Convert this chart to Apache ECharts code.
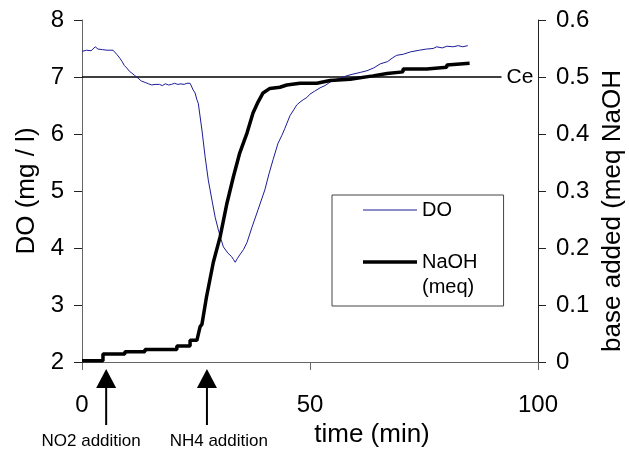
<!DOCTYPE html>
<html>
<head>
<meta charset="utf-8">
<script src="https://cdn.jsdelivr.net/npm/echarts@6/dist/echarts.min.js"></script>
<style>html,body{margin:0;padding:0;background:#fff}#c{width:629px;height:452px}</style>
</head>
<body>
<div id="c"></div>
<script>
// ---- data ----
const doData = [[0,7.45],[1,7.47],[2,7.46],[2.9,7.53],[3.5,7.49],[4.5,7.48],[5.5,7.47],[6.8,7.47],[7.2,7.5],[7.7,7.39],[8.3,7.33],[8.8,7.27],[9.3,7.2],[9.8,7.16],[10.4,7.1],[10.9,7.07],[11.5,7.03],[12.3,6.98],[13,6.93],[13.4,6.91],[14,6.9],[14.6,6.88],[15.3,6.86],[16,6.87],[16.4,6.84],[17,6.87],[17.6,6.85],[18.3,6.88],[19,6.86],[19.6,6.87],[20.3,6.89],[21,6.87],[21.7,6.88],[22.4,6.87],[23,6.89],[23.7,6.89],[24.4,6.77],[24.8,6.72],[25.2,6.6],[25.5,6.54],[26.3,6.07],[27,5.6],[27.7,5.19],[28.5,4.84],[29.2,4.54],[29.9,4.32],[30.5,4.15],[31,4.02],[32,3.91],[32.8,3.85],[33.2,3.8],[33.6,3.75],[34.1,3.82],[34.6,3.88],[35.4,3.97],[36.2,4.1],[37.3,4.37],[38.6,4.67],[40.1,5.02],[41,5.3],[41.9,5.55],[43,5.84],[43.8,5.97],[44.5,6.1],[45.6,6.32],[46.4,6.42],[47.1,6.51],[47.8,6.56],[48.5,6.6],[49.3,6.64],[50,6.7],[51,6.75],[52.2,6.81],[53.3,6.85],[54.4,6.91],[55.5,6.95],[56.6,6.98],[58,7.02],[59.4,7.05],[61,7.08],[62.5,7.11],[64,7.16],[65.4,7.23],[67,7.27],[68,7.33],[69,7.38],[70.5,7.4],[72,7.44],[74,7.47],[75.5,7.49],[77,7.5],[77.8,7.53],[79,7.51],[80,7.54],[81.4,7.53],[82.5,7.55],[83.5,7.53],[84.6,7.55]];
const naohData = [[0,0.002],[4.6,0.002],[4.6,0.014],[9.4,0.014],[9.4,0.018],[13.8,0.018],[13.8,0.022],[20.8,0.022],[20.8,0.028],[23.7,0.028],[23.7,0.038],[25.2,0.038],[25.9,0.062],[26.3,0.066],[27.3,0.114],[28.8,0.175],[30.3,0.22],[31.8,0.279],[33.2,0.325],[34.6,0.367],[36.2,0.402],[37.5,0.437],[38.6,0.456],[39.7,0.472],[41.2,0.48],[43.4,0.482],[44.9,0.486],[47.8,0.489],[51.5,0.489],[54.4,0.494],[58.8,0.496],[63.8,0.502],[66.9,0.506],[70.4,0.509],[70.4,0.514],[75.6,0.514],[75.6,0.517],[80,0.517],[80,0.521],[85,0.524]];
const ceData = [[0,7],[92,7]];
const ceLabel = 'Ce';
const seriesNames = ['DO', 'NaOH'];
const legendLabels = {DO: 'DO', NaOH: '\nNaOH\n(meq)'};
const xTicks = {min: 0, max: 100, interval: 50};
const leftTicks = {min: 2, max: 8, interval: 1};
const rightTicks = {min: 0, max: 0.6, interval: 0.1};
const arrowTimes = [5.3, 27.4];
const arrowLabels = ['NO2 addition', 'NH4 addition'];
const arrowLabelTimes = [2.0, 30.0];
const xName = 'time (min)';
const leftName = 'DO (mg / l)';
const rightName = 'base added (meq NaOH';

const FF = '"Liberation Sans", Arial, sans-serif';
const chart = echarts.init(document.getElementById('c'), null, {renderer: 'canvas'});
const option = {
  backgroundColor: '#fff',
  animation: false,
  textStyle: {fontFamily: FF},
  grid: {left: 82, right: 91, top: 20, bottom: 90, containLabel: false, outerBoundsMode: 'none'},
  legend: {
    orient: 'vertical', left: 332, top: 195,
    padding: [2.5, 26, 6.5, 31], itemGap: 2, itemWidth: 54, itemHeight: 14,
    borderColor: '#444', borderWidth: 1, backgroundColor: '#fff',
    data: [
      {name: seriesNames[0], icon: 'path://M0,0H54V1H0Z'},
      {name: seriesNames[1], icon: 'path://M0,0H54V3.5H0Z'}
    ],
    formatter: n => legendLabels[n],
    textStyle: {fontSize: 20, lineHeight: 25, color: '#000', fontFamily: FF}
  },
  xAxis: {
    type: 'value', min: xTicks.min, max: xTicks.max, interval: xTicks.interval,
    name: xName, nameLocation: 'middle', nameGap: 45,
    nameTextStyle: {fontSize: 26, color: '#000', fontFamily: FF, padding: [0, 0, 0, 124]},
    axisLine: {onZero: false, lineStyle: {color: '#666', width: 1}},
    axisTick: {inside: false, length: 8, lineStyle: {color: '#666'}},
    axisLabel: {fontSize: 24, color: '#000', margin: 31, fontFamily: FF},
    splitLine: {show: false}
  },
  yAxis: [
    {
      type: 'value', position: 'left', min: leftTicks.min, max: leftTicks.max, interval: leftTicks.interval,
      name: leftName, nameLocation: 'middle', nameGap: 42,
      nameTextStyle: {fontSize: 26, color: '#000', fontFamily: FF},
      axisLine: {show: true, onZero: false, lineStyle: {color: '#666', width: 1}},
      axisTick: {show: true, inside: false, length: 8, lineStyle: {color: '#666'}},
      axisLabel: {fontSize: 24, color: '#000', margin: 18, fontFamily: FF},
      splitLine: {show: false}
    },
    {
      type: 'value', position: 'right', min: rightTicks.min, max: rightTicks.max, interval: rightTicks.interval,
      name: rightName, nameLocation: 'middle', nameGap: 58,
      nameTextStyle: {fontSize: 26, color: '#000', fontFamily: FF, padding: [0, 40, 0, 0]},
      axisLine: {show: true, onZero: false, lineStyle: {color: '#222', width: 1}},
      axisTick: {show: true, inside: false, length: 8, lineStyle: {color: '#222'}},
      axisLabel: {fontSize: 24, color: '#000', margin: 18, fontFamily: FF,
        formatter: v => (Math.round(v * 10) / 10).toString()},
      splitLine: {show: false}
    },
    {
      type: 'value', position: 'right', min: rightTicks.min, max: rightTicks.max, interval: rightTicks.interval,
      axisLine: {show: false}, axisLabel: {show: false},
      axisTick: {show: true, inside: true, length: 8, lineStyle: {color: '#222'}},
      splitLine: {show: false}
    }
  ],
  series: [
    {
      name: 'Ce', type: 'line', yAxisIndex: 0, data: ceData, symbol: 'none', silent: true,
      lineStyle: {color: '#000', width: 1.5}, z: 1,
      endLabel: {show: true, formatter: ceLabel, fontSize: 21, color: '#000', distance: 5, fontFamily: FF}
    },
    {
      name: 'DO', type: 'line', yAxisIndex: 0, data: doData, symbol: 'none',
      lineStyle: {color: '#1c1c96', width: 1}, itemStyle: {color: '#1c1c96'}, z: 3
    },
    {
      name: 'NaOH', type: 'line', yAxisIndex: 1, data: naohData, symbol: 'none',
      lineStyle: {color: '#000', width: 3.5}, itemStyle: {color: '#000'}, z: 4
    }
  ]
};
chart.setOption(option);

function drawArrows() {
  const axisY = chart.convertToPixel({yAxisIndex: 0}, leftTicks.min);
  const els = [];
  arrowTimes.forEach((t, i) => {
    const x = chart.convertToPixel({xAxisIndex: 0}, t);
    els.push({type: 'polygon', shape: {points: [[x, axisY + 7], [x - 10, axisY + 26], [x + 10, axisY + 26]]}, style: {fill: '#000'}});
    els.push({type: 'line', shape: {x1: x, y1: axisY + 25, x2: x, y2: axisY + 63}, style: {stroke: '#000', lineWidth: 2}});
    const lx = chart.convertToPixel({xAxisIndex: 0}, arrowLabelTimes[i]);
    els.push({type: 'text', x: lx, y: axisY + 79, style: {text: arrowLabels[i], fontSize: 17, fill: '#000', align: 'center', verticalAlign: 'middle', fontFamily: FF}});
  });
  chart.setOption({graphic: els});
}
drawArrows();
</script>
</body>
</html>
